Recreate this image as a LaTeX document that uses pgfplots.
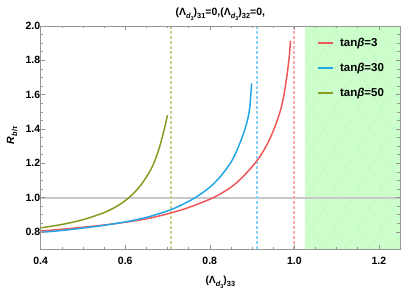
\documentclass[border=0pt]{standalone}
\usepackage{fontspec}
\setmainfont{Liberation Sans}
\newfontfamily\hb{Liberation Sans Bold}[ItalicFont={Liberation Sans Bold Italic}]
\usepackage{pgfplots}
\pgfplotsset{compat=1.18}
\usetikzlibrary{patterns.meta}
\definecolor{cred}{RGB}{240,88,88}
\definecolor{cblue}{RGB}{34,168,232}
\definecolor{colive}{RGB}{136,154,32}
\definecolor{dred}{RGB}{250,170,170}
\definecolor{dblue}{RGB}{140,210,250}
\definecolor{dolive}{RGB}{205,205,140}
\definecolor{lgreen}{RGB}{204,255,204}
\definecolor{hgreen}{RGB}{192,247,192}
\definecolor{framegray}{RGB}{150,150,150}
\newcommand{\sub}[1]{\raisebox{-0.28em}{\fontsize{7.4}{8}\selectfont #1}}
\newcommand{\subb}[1]{\raisebox{-0.22em}{\fontsize{5.4}{6}\selectfont #1}}
\newcommand{\Ld}{(Λ\sub{\textit{d}\subb{3}})}
\begin{document}
\begin{tikzpicture}
\useasboundingbox (-40.7pt,-40pt) rectangle (360.3pt,249pt);
\node[anchor=base, inner sep=0pt, font=\hb\fontsize{10.5}{12}\selectfont] at (179.6pt,233pt) {\Ld\sub{31}=0,\Ld\sub{32}=0,};
\begin{axis}[
  at={(0pt,0pt)}, anchor=south west,
  scale only axis, width=359.3pt, height=223pt,
  xmin=0.4, xmax=1.25, ymin=0.7, ymax=2.0,
  xtick={0.4,0.6,0.8,1.0,1.2}, ytick={0.8,1.0,1.2,1.4,1.6,1.8,2.0},
  minor x tick num=3, minor y tick num=3,
  tick align=inside, tick pos=both,
  major tick length=4pt, minor tick length=2.5pt,
  axis line style={framegray},
  every tick/.style={framegray, line width=0.5pt},
  /pgf/number format/assume math mode=true,
  /pgf/number format/.cd, fixed, fixed zerofill, precision=1, /pgfplots/.cd,
  tick label style={font=\hb\fontsize{10.5}{12}\selectfont},
  xticklabel style={yshift=-5pt},
  yticklabel style={xshift=3pt},
  axis on top,
  xlabel={\hb\fontsize{10.3}{12}\selectfont\Ld\sub{33}},
  xlabel style={at={(axis description cs:0.5,-0.155)}, anchor=base, inner sep=0pt},
  ylabel={\hb\fontsize{10.5}{12}\selectfont\textit{R}\sub{\textit{b}/\textit{τ}}},
  ylabel style={at={(axis description cs:-0.0799,0.51)}, anchor=center, inner sep=0pt},
  legend style={draw=none, fill=none, at={(axis description cs:0.77,0.955)}, anchor=north west, font=\hb\fontsize{11.5}{13}\selectfont, row sep=11pt, column sep=4pt, inner sep=0pt},
  legend cell align=left,
  legend image code/.code={\draw[#1] (0pt,0pt) -- (15pt,0pt);},
]
\addplot[fill=lgreen, draw=none, forget plot] coordinates {(1.025,0.7) (1.25,0.7) (1.25,2.0) (1.025,2.0)} -- cycle;
\addplot[pattern={Lines[angle=60,distance=20pt,line width=0.4pt]}, pattern color=hgreen, draw=none, forget plot] coordinates {(1.025,0.7) (1.25,0.7) (1.25,2.0) (1.025,2.0)} -- cycle;
\addplot[pattern={Lines[angle=-60,distance=20pt,line width=0.4pt]}, pattern color=hgreen, draw=none, forget plot] coordinates {(1.025,0.7) (1.25,0.7) (1.25,2.0) (1.025,2.0)} -- cycle;
\addplot[color={rgb,255:red,200;green,200;blue,200}, line width=2pt, forget plot] coordinates {(0.4,1.0) (1.25,1.0)};
\addplot[dolive, dash pattern=on 3pt off 2pt, line width=1.8pt, forget plot] coordinates {(0.709,0.7) (0.709,2.0)};
\addplot[dblue, dash pattern=on 3pt off 2pt, line width=1.8pt, forget plot] coordinates {(0.911,0.7) (0.911,2.0)};
\addplot[dred, dash pattern=on 3pt off 2pt, line width=1.8pt, forget plot] coordinates {(1.0,0.7) (1.0,2.0)};
\addplot[cred, line width=1.5pt, smooth] coordinates {
(0.40,0.805) (0.45,0.815) (0.50,0.827) (0.55,0.840) (0.60,0.856) (0.65,0.876) (0.70,0.905) (0.75,0.942) (0.809,1.0) (0.85,1.06) (0.88,1.125) (0.912,1.216) (0.93,1.285) (0.944,1.353) (0.956,1.425) (0.968,1.515) (0.976,1.605) (0.983,1.72) (0.988,1.82) (0.991,1.914)};
\addlegendentry{tan\textit{β}=3}
\addplot[cblue, line width=1.5pt, smooth] coordinates {
(0.40,0.797) (0.45,0.808) (0.50,0.822) (0.55,0.838) (0.60,0.858) (0.65,0.884) (0.70,0.922) (0.73,0.953) (0.766,1.0) (0.80,1.06) (0.825,1.122) (0.85,1.205) (0.865,1.28) (0.88,1.375) (0.89,1.46) (0.895,1.535) (0.899,1.665)};
\addlegendentry{tan\textit{β}=30}
\addplot[colive, line width=1.5pt, smooth] coordinates {
(0.40,0.823) (0.45,0.843) (0.50,0.871) (0.55,0.912) (0.58,0.949) (0.60,0.982) (0.62,1.025) (0.64,1.083) (0.66,1.16) (0.67,1.215) (0.68,1.285) (0.69,1.375) (0.70,1.48)};
\addlegendentry{tan\textit{β}=50}
\end{axis}
\end{tikzpicture}
\end{document}
